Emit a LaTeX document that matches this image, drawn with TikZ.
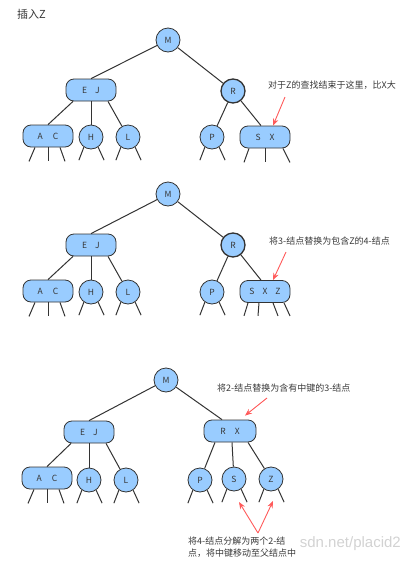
\documentclass[tikz,border=0pt]{standalone}
\usepackage{fontspec}
\setmainfont{Noto Sans CJK SC}
\newfontfamily\latinfont{Liberation Sans}
\usetikzlibrary{arrows.meta}
\definecolor{nodeblue}{RGB}{153,204,255}
\definecolor{edgegray}{RGB}{51,51,51}
\definecolor{noteRed}{RGB}{255,90,90}
\definecolor{txt}{RGB}{55,55,55}
\begin{document}
\begin{tikzpicture}[x=1pt,y=-1pt,
  keycirc/.style={circle,draw=edgegray,fill=nodeblue,line width=0.8pt,minimum size=24pt,inner sep=0pt,font=\fontsize{8.5}{10}\selectfont,text=txt},
  keybox/.style={rounded corners=8pt,draw=edgegray,fill=nodeblue,line width=0.8pt,minimum width=50pt,minimum height=22pt,inner sep=0pt,font=\fontsize{8.5}{10}\selectfont,text=txt},
  thickring/.style={line width=1.3pt},
  link/.style={draw=edgegray,line width=1pt},
  leaf/.style={draw=edgegray,line width=1pt},
  note/.style={font=\fontsize{9}{12}\selectfont,text=txt,inner sep=0pt},
  hint/.style={draw=noteRed,line width=0.9pt,-{Stealth[length=7pt,width=5.5pt]}},
]
\useasboundingbox (0,0) rectangle (409,563);

% title
\node[note,anchor=west,font=\fontsize{11}{12}\selectfont] (title) at (17,14) {插入Z};

% ---------- panel 1 ----------
\node[keycirc] (M1) at (168,40) {M};
\node[keybox] (EJ1) at (91,90) {E\hspace{8pt}J};
\node[keycirc,thickring] (R1) at (233,91) {R};
\node[keybox] (AC1) at (48,136) {A\hspace{10pt}C};
\node[keycirc] (H1) at (91,137) {H};
\node[keycirc] (L1) at (128,137) {L};
\node[keycirc] (P1) at (212,137) {P};
\node[keybox] (SX1) at (265,137) {S\hspace{9pt}X};

\draw[link] (M1) -- (EJ1.north);
\draw[link] (M1) -- (R1);
\draw[link] ([xshift=-18pt]EJ1.south) -- (AC1.north);
\draw[link] (EJ1.south) -- (H1);
\draw[link] ([xshift=17pt]EJ1.south) -- (L1);
\draw[link] (R1) -- (P1);
\draw[link] (R1) -- ([xshift=-4pt]SX1.north);

\draw[leaf] ([xshift=-13pt]AC1.south) -- ++(-6,14);
\draw[leaf] (AC1.south) -- ++(0,14);
\draw[leaf] ([xshift=12pt]AC1.south) -- ++(5,14);
\foreach \n in {H1,L1,P1}{
  \draw[leaf] (\n.235) -- ++(-5,13);
  \draw[leaf] (\n.305) -- ++(6,13);
}
\draw[leaf] ([xshift=-16pt]SX1.south) -- ++(-5,14);
\draw[leaf] (SX1.south) -- ++(0,14);
\draw[leaf] ([xshift=18pt]SX1.south) -- ++(7,14);

\node[note,anchor=west] (n1) at (268,85) {对于Z的查找结束于这里，比X大};
\coordinate (a1) at (285,97);
\draw[hint] (a1) -- ([xshift=8pt]SX1.north);

% ---------- panel 2 ----------
\node[keycirc] (M2) at (168,194) {M};
\node[keybox] (EJ2) at (91,245) {E\hspace{8pt}J};
\node[keycirc,thickring] (R2) at (233,245) {R};
\node[keybox] (AC2) at (48,291) {A\hspace{10pt}C};
\node[keycirc] (H2) at (91,292) {H};
\node[keycirc] (L2) at (128,292) {L};
\node[keycirc] (P2) at (212,292) {P};
\node[keybox] (SXZ2) at (265,291.5) {S\hspace{8pt}X\hspace{8pt}Z};

\draw[link] (M2) -- (EJ2.north);
\draw[link] (M2) -- (R2);
\draw[link] ([xshift=-18pt]EJ2.south) -- (AC2.north);
\draw[link] (EJ2.south) -- (H2);
\draw[link] ([xshift=17pt]EJ2.south) -- (L2);
\draw[link] (R2) -- (P2);
\draw[link] (R2) -- ([xshift=-4pt]SXZ2.north);

\draw[leaf] ([xshift=-13pt]AC2.south) -- ++(-6,14);
\draw[leaf] (AC2.south) -- ++(0,14);
\draw[leaf] ([xshift=12pt]AC2.south) -- ++(5,14);
\foreach \n in {H2,L2,P2}{
  \draw[leaf] (\n.235) -- ++(-5,13);
  \draw[leaf] (\n.305) -- ++(6,13);
}
\draw[leaf] ([xshift=-17pt]SXZ2.south) -- ++(-4,13);
\draw[leaf] ([xshift=-6pt]SXZ2.south) -- ++(-1,13);
\draw[leaf] ([xshift=8pt]SXZ2.south) -- ++(5,13);
\draw[leaf] ([xshift=19pt]SXZ2.south) -- ++(6,13);

\node[note,anchor=west] (n2) at (269,241) {将3-结点替换为包含Z的4-结点};
\coordinate (a2) at (286,252);
\draw[hint] (a2) -- ([xshift=8pt]SXZ2.north);

% ---------- panel 3 ----------
\node[text=gray!35,font=\latinfont\fontsize{15}{15}\selectfont,anchor=east,inner sep=0pt] (wm) at (401,544) {sdn.net/placid2};

\node[keycirc] (M3) at (166,380) {M};
\node[keybox] (EJ3) at (89,432) {E\hspace{8pt}J};
\node[keybox,minimum width=52pt] (RX3) at (230,431) {R\hspace{9pt}X};
\node[keybox] (AC3) at (47,478) {A\hspace{10pt}C};
\node[keycirc] (H3) at (89,480) {H};
\node[keycirc] (L3) at (126,480) {L};
\node[keycirc] (P3) at (200,480) {P};
\node[keycirc] (S3) at (234,479) {S};
\node[keycirc] (Z3) at (271,479) {Z};

\draw[link] (M3) -- (EJ3.north);
\draw[link] (M3) -- ([xshift=-8pt]RX3.north);
\draw[link] ([xshift=-18pt]EJ3.south) -- (AC3.north);
\draw[link] (EJ3.south) -- (H3);
\draw[link] ([xshift=17pt]EJ3.south) -- (L3);
\draw[link] ([xshift=-15pt]RX3.south) -- (P3);
\draw[link] ([xshift=2pt]RX3.south) -- (S3);
\draw[link] ([xshift=18pt]RX3.south) -- (Z3);

\draw[leaf] ([xshift=-13pt]AC3.south) -- ++(-6,14);
\draw[leaf] (AC3.south) -- ++(0,14);
\draw[leaf] ([xshift=12pt]AC3.south) -- ++(5,14);
\foreach \n in {H3,L3,P3,S3,Z3}{
  \draw[leaf] (\n.235) -- ++(-5,13);
  \draw[leaf] (\n.305) -- ++(6,13);
}

\node[note,anchor=west] (n3) at (217,388) {将2-结点替换为含有中键的3-结点};
\coordinate (a3) at (267,398);
\draw[hint] (a3) -- ([xshift=15pt,yshift=4pt]RX3.north);

\node[note,anchor=north west,align=left] (n4) at (188,537) {将4-结点分解为两个2-结\\点，将中键移动至父结点中};
\coordinate (a4) at (258,533);
\coordinate (s3tip) at (239,502);
\coordinate (z3tip) at (273,501);
\draw[hint] (a4) -- (s3tip);
\draw[hint] (a4) -- (z3tip);
\end{tikzpicture}
\end{document}
